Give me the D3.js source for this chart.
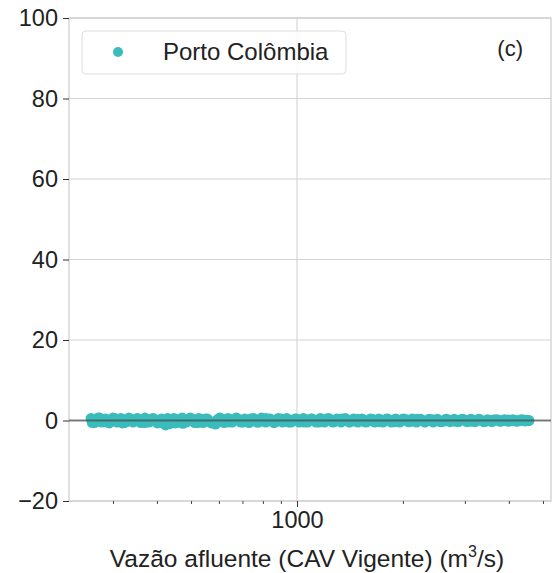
<!DOCTYPE html>
<html>
<head>
<meta charset="utf-8">
<script src="https://d3js.org/d3.v7.min.js"></script>
<style>
  body { margin: 0; background: #fff; }
  svg { font-family: "Liberation Sans", Arial, sans-serif; }
</style>
</head>
<body>
<div id="vis"></div>
<script>
// data
let seriesName = "Porto Colômbia";
let panelTag = "(c)";
let xLabel = "Vazão afluente (CAV Vigente) (m";
let yTicks = [-20, 0, 20, 40, 60, 80, 100];
let xMajorTicks = [1000];
let xMinorTicks = [300, 400, 500, 600, 700, 800, 900, 2000, 3000, 4000, 5000];

// inflow (m3/s) and deviation (%) of the scatter points, three overlapping runs
let flowsA = [260, 266, 272, 279, 286, 293, 300, 308, 316, 324, 333, 342, 351, 360, 370, 380, 390, 401,
  412, 423, 435, 447, 459, 472, 485, 498, 512, 526, 541, 556, 571, 587, 603, 620, 637, 655, 673, 692,
  711, 731, 751, 772, 793, 815, 838, 861, 885, 910, 935, 961, 988, 1015, 1043, 1072, 1102, 1133, 1164,
  1197, 1230, 1264, 1299, 1335, 1372, 1410, 1449, 1490, 1531, 1574, 1617, 1662, 1708, 1756, 1805, 1855,
  1906, 1959, 2014, 2070, 2127, 2186, 2247, 2309, 2373, 2439, 2507, 2577, 2648, 2722, 2797, 2875, 2955,
  3037, 3121, 3208, 3297, 3388, 3482, 3579, 3678, 3780, 3885, 3993, 4104, 4218, 4335, 4455, 4560];
let devsA = [0.5, -0.5, 0.6, -0.4, 0.4, -0.6, 0.6, -0.4, 0.5, -0.5, 0.6, -0.4, 0.4, -0.5, 0.6, -0.4,
  0.5, -0.6, 0.4, -1.1, -0.8, 0.5, -0.4, 0.6, -0.4, 0.6, -0.5, 0.5, -0.5, 0.4, -0.6, -0.9, 0.6, -0.5,
  0.5, -0.4, 0.6, -0.4, 0.4, -0.5, 0.5, -0.4, 0.6, -0.4, 0.4, -0.5, 0.5, -0.4, 0.5, -0.4, 0.4, -0.4, 0.5,
  -0.4, 0.4, -0.4, 0.5, -0.4, 0.5, -0.4, 0.4, -0.4, 0.5, -0.4, 0.4, -0.4, 0.4, -0.4, 0.4, -0.4, 0.4, -0.4,
  0.4, -0.4, 0.4, -0.4, 0.4, -0.3, 0.4, -0.4, 0.3, -0.4, 0.3, -0.4, 0.3, -0.3, 0.3, -0.3, 0.3, -0.3, 0.3,
  -0.3, 0.3, -0.3, 0.3, -0.3, 0.2, -0.3, 0.2, -0.2, 0.2, -0.2, 0.2, -0.2, 0.2, -0.1, 0.0];

let flowsB = [262, 275, 289, 304, 319, 335, 352, 370, 389, 408, 429, 451, 474, 498, 523, 550, 578, 607,
  638, 670, 704, 740, 778, 817, 859, 902, 948, 996, 1047, 1100, 1156, 1215, 1276, 1341, 1409, 1481,
  1556, 1635, 1718, 1805, 1897, 1993, 2094, 2201, 2312, 2430, 2553, 2683, 2819, 2962, 3112, 3270, 3436,
  3611, 3794, 3987, 4189, 4402, 4540];
let devsB = [-0.5, 0.6, -0.4, 0.5, -0.6, 0.4, 0.5, -0.5, 0.4, -0.5, 0.5, -0.6, -0.7, 0.5, -0.5, 0.4,
  -0.5, 0.5, -0.4, 0.5, -0.4, 0.4, -0.4, 0.5, -0.4, 0.4, -0.4, 0.4, -0.4, 0.4, -0.4, 0.4, -0.3, 0.4,
  -0.3, 0.3, -0.3, 0.3, -0.3, 0.3, -0.3, 0.3, -0.3, 0.3, -0.3, 0.2, -0.3, 0.2, -0.2, 0.2, -0.2, 0.2,
  -0.2, 0.1, -0.1, 0.1, 0.0, 0.1, 0.0];

let flowsC = [270, 283, 297, 312, 328, 344, 361, 379, 398, 418, 440, 462, 486, 511, 537, 564, 593, 623,
  655, 688, 723, 760, 799, 840, 883, 928, 975, 1025, 1077, 1132, 1190, 1250, 1314, 1381, 1451, 1525,
  1603, 1684, 1770, 1860, 1955, 2055, 2159, 2269, 2385, 2506, 2634, 2768, 2909, 3057, 3213, 3376, 3548,
  3729, 3919, 4118, 4328, 4500];
let devsC = [0.1, -0.1, 0.0, 0.2, -0.2, 0.1, 0.0, -0.1, 0.1, -0.3, -0.2, 0.1, 0.0, -0.1, 0.2, -0.2, 0.1,
  0.0, -0.1, 0.1, 0.0, -0.1, 0.1, 0.0, -0.1, 0.1, 0.0, -0.1, 0.1, 0.0, -0.1, 0.1, 0.0, 0.0, -0.1, 0.1,
  0.0, -0.1, 0.1, 0.0, 0.0, 0.1, -0.1, 0.0, 0.1, 0.0, -0.1, 0.0, 0.1, 0.0, 0.0, -0.1, 0.0, 0.1, 0.0, 0.0,
  0.0, 0.0];

let margin = { top: 18, left: 69, right: 5, bottom: 72 },
  width = 556 - margin.left - margin.right,
  height = 573 - margin.top - margin.bottom;

let svg = d3.select('#vis')
  .append('svg')
  .attr('width', 556)
  .attr('height', 573);

let g = svg.append('g')
  .attr('transform', 'translate(' + margin.left + ',' + margin.top + ')');

let xScale = d3.scaleLog()
  .domain([225, 5270])
  .range([0, width]);

let yScale = d3.scaleLinear()
  .domain([-20, 100])
  .range([height, 0]);

// grid
g.append('g')
  .selectAll('line.hgrid')
  .data(yTicks)
  .enter()
  .append('line')
    .attr('x1', 0).attr('x2', width)
    .attr('y1', d => yScale(d)).attr('y2', d => yScale(d))
    .attr('stroke', '#d4d4d4').attr('stroke-width', 1.1);

g.append('g')
  .selectAll('line.vgrid')
  .data(xMajorTicks)
  .enter()
  .append('line')
    .attr('x1', d => xScale(d)).attr('x2', d => xScale(d))
    .attr('y1', 0).attr('y2', height)
    .attr('stroke', '#d4d4d4').attr('stroke-width', 1.1);

// frame
g.append('rect')
  .attr('x', 0).attr('y', 0)
  .attr('width', width).attr('height', height)
  .attr('fill', 'none')
  .attr('stroke', '#cccccc')
  .attr('stroke-width', 1.2);

// points
function toPoints(fl, dv) {
  return fl.map(function(f, i) { return { flow: f, dev: dv[i] }; });
}
let points = toPoints(flowsA, devsA)
  .concat(toPoints(flowsB, devsB))
  .concat(toPoints(flowsC, devsC));

g.append('g')
  .selectAll('circle')
  .data(points)
  .enter()
  .append('circle')
    .attr('cx', d => xScale(d.flow))
    .attr('cy', d => yScale(d.dev))
    .attr('r', 5.5)
    .attr('fill', '#3bbcbc');

// zero line
g.append('line')
  .attr('x1', 0).attr('x2', width)
  .attr('y1', yScale(0)).attr('y2', yScale(0))
  .attr('stroke', '#404040')
  .attr('stroke-opacity', 0.65)
  .attr('stroke-width', 2);

// y axis
let yAxis = g.append('g')
  .call(d3.axisLeft(yScale).tickValues(yTicks).tickSize(6).tickPadding(5));
yAxis.select('.domain').remove();
yAxis.selectAll('.tick line').attr('stroke', '#333');
yAxis.selectAll('text').attr('font-size', 23.5).attr('fill', '#222')
  .attr('font-family', '"Liberation Sans", Arial, sans-serif');

// x axis: major and minor ticks
let xAxis = g.append('g')
  .attr('transform', 'translate(0,' + height + ')')
  .call(d3.axisBottom(xScale).tickValues(xMajorTicks).tickFormat(d3.format('d')).tickSize(6).tickPadding(4));
xAxis.select('.domain').remove();
xAxis.selectAll('.tick line').attr('stroke', '#333');
xAxis.selectAll('text').attr('font-size', 23.5).attr('fill', '#222')
  .attr('font-family', '"Liberation Sans", Arial, sans-serif');

let xMinor = g.append('g')
  .attr('transform', 'translate(0,' + height + ')')
  .call(d3.axisBottom(xScale).tickValues(xMinorTicks).tickFormat('').tickSize(3));
xMinor.select('.domain').remove();
xMinor.selectAll('.tick line').attr('stroke', '#444');

// x label
let lab = svg.append('text')
  .attr('x', 307)
  .attr('y', 567)
  .attr('text-anchor', 'middle')
  .attr('font-size', 24.5)
  .attr('fill', '#222');
lab.append('tspan').text(xLabel);
lab.append('tspan').attr('font-size', 16).attr('dy', -10).text('3');
lab.append('tspan').attr('dy', 10).text('/s)');

// legend
let leg = g.append('g');
leg.append('rect')
  .attr('x', 13).attr('y', 13)
  .attr('width', 264).attr('height', 43)
  .attr('rx', 4)
  .attr('fill', '#fff').attr('fill-opacity', 0.85)
  .attr('stroke', '#dddddd');
leg.append('circle')
  .attr('cx', 49).attr('cy', 34)
  .attr('r', 5)
  .attr('fill', '#3bbcbc');
leg.append('text')
  .attr('x', 94).attr('y', 42)
  .attr('font-size', 24)
  .attr('fill', '#222')
  .text(seriesName);

// panel tag
g.append('text')
  .attr('x', 454).attr('y', 38)
  .attr('text-anchor', 'end')
  .attr('font-size', 22)
  .attr('fill', '#222')
  .text(panelTag);
</script>
</body>
</html>
